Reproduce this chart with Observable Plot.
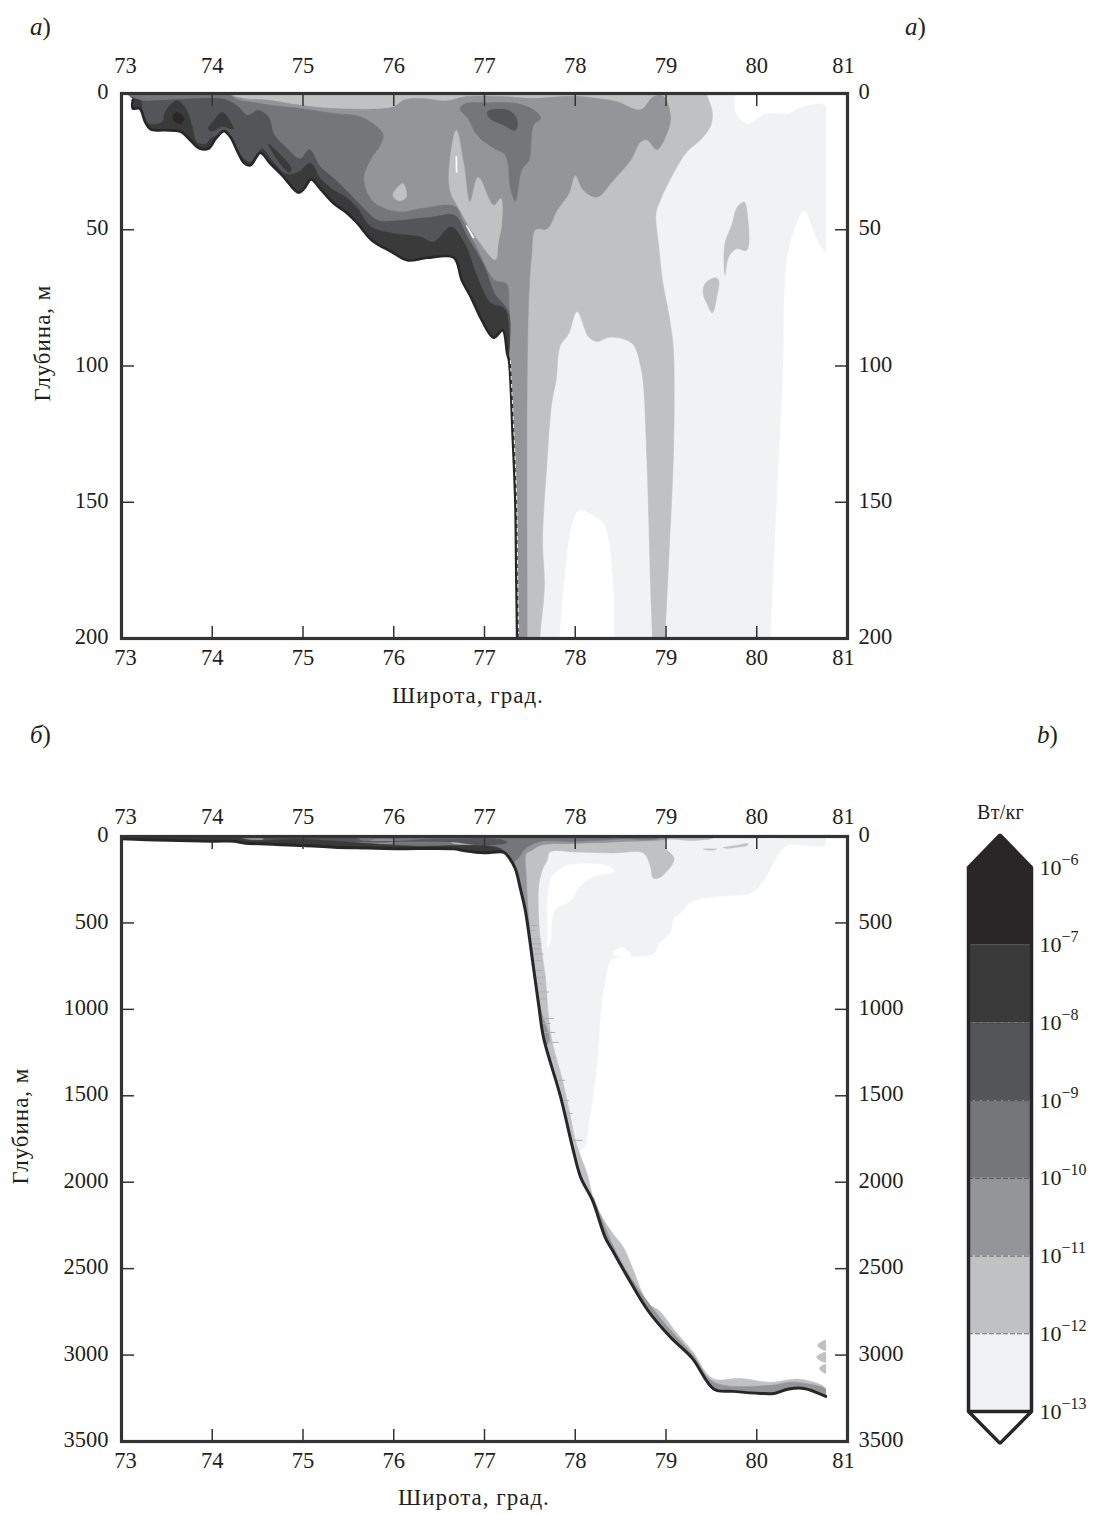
<!DOCTYPE html>
<html><head><meta charset="utf-8">
<script src="https://cdn.jsdelivr.net/npm/d3@7"></script>
<script src="https://cdn.jsdelivr.net/npm/@observablehq/plot@0.6"></script>
<style>
html,body{margin:0;padding:0;background:#fff}
#page{position:relative;width:1093px;height:1515px;overflow:hidden;font-family:"Liberation Serif",serif;color:#231f20}
#page>div{position:absolute;white-space:nowrap;line-height:1}
#page>svg,#page>figure{position:absolute;margin:0}
.lab{font-size:23px;letter-spacing:1px}
.unit{font-size:20px;letter-spacing:.3px}
.let{font-size:25px}
</style></head><body><div id="page"></div>
<script>
const latTicks=[73,74,75,76,77,78,79,80,81];
const depthTicksA=[0,50,100,150,200];
const depthTicksB=[0,500,1000,1500,2000,2500,3000,3500];
const levels=[-6,-7,-8,-9,-10,-11,-12,-13];
const bandColors=["#282627","#3a3a3b","#545558","#75767a","#949599","#c0c1c3","#f1f2f4"];
const [C7,C6,C5,C4,C3,C2,C1]=bandColors;

// Panel a: contour outlines, [latitude, depth m]; outlines run past the frame, which clips them
const seabedA=[[73.125,2.3],[73.125,5.5],[73.2,5.5],[73.26,10.4],[73.32,13.2],[73.47,13.5],[73.65,14],[73.74,16.5],[73.85,20],[73.96,20.2],[74.04,16.5],[74.13,13.8],[74.2,16],[74.28,21.4],[74.35,25.5],[74.42,26.3],[74.53,21.8],[74.64,25.7],[74.77,30],[74.95,36.4],[75.01,35],[75.09,31.5],[75.19,35],[75.34,40.4],[75.47,43.5],[75.6,47.7],[75.76,53.9],[75.97,58],[76.15,61.2],[76.37,60.3],[76.66,60.2],[76.75,68.5],[76.85,74.7],[76.97,83.2],[77.1,89.6],[77.2,86.9],[77.25,95.5],[77.27,98],[77.31,125],[77.34,150],[77.35,175],[77.36,200]];
const cliffDashA=[[77.285,98],[77.325,125],[77.355,150],[77.365,175],[77.375,198]];
const a1=[[73,-15],[79.76,-15],[79.76,0],[79.77,7.5],[79.9,11],[80.1,7.5],[80.35,7.3],[80.5,5],[80.76,4.7],[80.76,58],[80.67,53.8],[80.52,42.8],[80.41,50],[80.33,60],[80.3,75],[80.29,98],[80.22,147],[80.15,200],[80.14,215],[73,215]];
const aHole=[[77.83,215],[77.83,200],[77.89,176],[77.945,161.5],[78.02,153.6],[78.07,153],[78.22,155.4],[78.31,158],[78.37,165],[78.42,183.6],[78.43,200],[78.43,215]];
const a2=[[73,-15],[79.44,-15],[79.45,0],[79.51,6.7],[79.49,12],[79.38,17],[79.23,21.4],[79.08,29.4],[78.94,39],[78.89,44],[78.92,56],[78.96,68.5],[79.03,80.8],[79.08,93],[79.09,109],[79.08,134.6],[79.03,171],[78.99,200],[78.98,215],[78.86,215],[78.85,200],[78.83,181],[78.79,134.6],[78.75,106.5],[78.72,100],[78.63,91.8],[78.39,89.4],[78.24,91],[78.15,89.4],[78.02,80],[77.93,88],[77.83,93],[77.79,105],[77.74,113.8],[77.69,134.6],[77.64,164],[77.66,181],[77.61,200],[77.6,215],[73,215]];
const a2IslandA=[[79.86,39.8],[79.9,45.3],[79.89,57.5],[79.78,57],[79.69,60],[79.65,66.7],[79.64,63.6],[79.65,55],[79.73,47.7],[79.78,42]];
const a2IslandB=[[79.54,67.6],[79.58,68.5],[79.56,74.7],[79.51,80.5],[79.45,77],[79.41,73.4],[79.43,69.8]];
const a3=[[73,-15],[74.2,-15],[74.2,0],[74.35,1.8],[74.6,2.4],[74.97,4.3],[75.34,5.5],[76,4.9],[76.11,2.4],[76.3,1.8],[76.59,2.7],[76.78,1.2],[77.25,1.2],[77.51,1.8],[77.98,1],[78.24,1.8],[78.46,3],[78.72,6],[78.86,1.2],[78.97,1],[79.05,8.6],[79.01,14.7],[78.9,20.6],[78.79,17],[78.72,17.7],[78.61,24.5],[78.42,31.8],[78.24,38],[78.09,35.5],[78,30],[77.93,36.7],[77.8,42.8],[77.69,49.6],[77.56,50],[77.52,58.8],[77.49,73.4],[77.47,105],[77.47,200],[77.47,215],[73,215]];
const a3HoleLeft=[[76.69,13.5],[76.62,24.5],[76.62,35.5],[76.73,42.8],[76.88,51.4],[77.12,61],[77.15,55],[77.19,47.7],[77.18,38.5],[77.1,41],[76.93,30.8],[76.84,39.8],[76.77,25.7]];
const a3Island=[[76.1,33],[76.14,38],[76.06,39.4],[75.99,37.3]];
const aStreak=[[76.685,23],[76.695,23],[76.7,29],[76.69,29]];
const aStreak2=[[76.79,48.5],[76.81,48.5],[76.89,53],[76.87,53]];
const a4=[[73,-15],[74.2,-15],[74.2,0.5],[74.53,3.7],[74.97,5.5],[75.34,7.3],[75.64,8.6],[75.88,14.7],[75.86,18.4],[75.75,23.9],[75.67,30.6],[75.71,36.7],[75.82,41],[76.08,43.5],[76.3,42.2],[76.67,41.4],[76.76,46.5],[76.89,55],[77.11,68.5],[77.24,69.8],[77.27,78],[77.26,95],[77.1,110],[73,110]];
const a4Blob=[[76.73,5.5],[76.79,3.7],[77.06,3.4],[77.36,3.7],[77.54,6],[77.62,9.2],[77.54,11.6],[77.49,24.5],[77.41,28],[77.34,39.4],[77.29,35.5],[77.23,22.6],[77.1,20],[76.92,15.3],[76.82,9.2]];
const a5=[[73.1,1.2],[73.21,2.6],[73.41,2.6],[73.74,2],[74.15,2.3],[74.29,5],[74.39,8],[74.51,6.2],[74.62,8.7],[74.68,15],[74.81,19.7],[74.97,23.9],[75.07,20.6],[75.19,26.9],[75.34,31.2],[75.49,36],[75.67,42.2],[75.82,46.5],[76,46.8],[76.26,45.9],[76.44,45.3],[76.67,44.7],[76.81,52.6],[77,63.6],[77.11,73.4],[77.2,77],[77.27,80.8],[77.26,95],[77.1,110],[73,105],[73,4]];
const a5Blob=[[77.03,6.7],[77.12,5.8],[77.28,6.4],[77.36,9.8],[77.34,13.5],[77.21,11.6],[77.06,9.2]];
const a6=[[73.125,2.3],[73.21,2.6],[73.23,6.2],[73.3,11],[73.45,10.5],[73.48,6.9],[73.61,2.6],[73.71,5.6],[73.78,12.4],[73.83,17.9],[73.93,18.5],[73.98,16.6],[74.05,15.5],[74.15,14.2],[74.26,19.7],[74.33,23.4],[74.42,25.2],[74.5,22],[74.55,20.3],[74.66,24.6],[74.81,29.5],[74.95,28.8],[75.08,25.5],[75.19,31.2],[75.34,35.5],[75.47,38],[75.6,42.2],[75.75,49],[76,51.4],[76.29,52.6],[76.44,54.5],[76.63,49],[76.78,55],[76.92,67.3],[77.07,77],[77.22,79],[77.27,88],[77.26,97],[77.1,110],[73,110],[73,5]];
const a6Arch=[[73.956,13],[74.02,9.9],[74.11,6.9],[74.18,9.3],[74.23,13],[74.11,12],[74,13.8]];
const a6Streak=[[74.62,18.5],[74.72,21.5],[74.87,27.5],[74.85,29],[74.7,23.5]];
const a7Blob=[[73.61,6.9],[73.69,9.3],[73.65,11],[73.58,10],[73.57,8]];
const landA=[[72.5,-15],[73.06,-15],[73.06,0],...seabedA,[77.36,215],[72.5,215]];
const maskA=[{a:80.77,b:81,c:0,d:200}];

// Panel b
const seabedB=[[73,13],[73.27,19],[74,27],[74.24,27],[74.35,37],[75,52],[75.34,62],[75.71,67],[76,71],[76.66,71],[76.77,81],[76.99,94],[77.21,91],[77.28,129],[77.34,187],[77.4,312],[77.45,428],[77.54,760],[77.6,987],[77.65,1162],[77.84,1509],[77.97,1798],[78.06,1972],[78.19,2105],[78.33,2319],[78.41,2394],[78.61,2579],[78.8,2741],[79.05,2897],[79.29,3019],[79.53,3198],[79.74,3210],[80.04,3222],[80.19,3222],[80.34,3198],[80.52,3193],[80.76,3239]];
const b1=[[73,-100],[80,-100],[80,0],[80.75,10],[80.75,52],[80.33,52],[80.22,120],[80.11,225],[79.96,322],[79.74,341],[79.49,351],[79.27,380],[79.19,428],[79.08,476],[79.05,553],[78.92,621],[78.86,679],[78.62,692],[78.51,694],[78.39,717],[78.33,833],[78.28,1024],[78.24,1314],[78.15,1662],[78.1,1797],[78,1820],[77.5,1000],[73,100]];
const bHole=[[77.79,206],[77.91,168],[78.2,158],[78.4,181],[78.42,206],[78.22,229],[78.06,283],[77.95,370],[77.82,405],[77.77,428],[77.74,505],[77.72,621],[77.69,640],[77.7,563],[77.69,409],[77.71,293],[77.74,235]];
const bNotch=[[78.42,675],[78.51,642],[78.61,682],[78.51,694]];
const b2=[[73,-100],[79.52,-100],[79.52,0],[79.52,8],[79.3,23],[79,23],[78.99,62],[79.09,129],[78.94,235],[78.86,241],[78.83,177],[78.75,96],[78.42,96],[78.02,90],[77.72,90],[77.69,139],[77.65,177],[77.6,274],[77.6,505],[77.63,659],[77.67,813],[77.71,1064],[77.75,1197],[77.86,1411],[77.94,1602],[78.01,1775],[78.13,1950],[78.22,2124],[78.39,2279],[78.53,2376],[78.64,2508],[78.8,2700],[78.92,2741],[79.11,2867],[79.3,2984],[79.51,3135],[79.82,3135],[80.15,3157],[80.48,3140],[80.76,3192],[80.76,3240],[80.7,3290],[80,3320],[73,3320]];
const bStreakA=[[79.41,73],[79.56,73],[79.5,80]];
const bStreakB=[[79.63,65],[79.78,52],[79.9,42],[79.9,50],[79.78,62],[79.67,69]];
const bIsland1=[[80.67,2944],[80.76,2915],[80.76,2973]];
const bIsland2=[[80.66,3013],[80.76,2985],[80.76,3042]];
const bIsland3=[[80.69,3077],[80.76,3054],[80.76,3106]];
const b3=[[73,-100],[79,-100],[79,0],[79,12],[78.5,30],[78,40],[77.62,50],[77.52,80],[77.46,100],[77.46,235],[77.49,486],[77.55,760],[77.62,1000],[77.7,1200],[77,1200],[73,1200]];
const b3Slope=[[78.2,2085],[78.41,2360],[78.61,2550],[78.87,2741],[79.02,2838],[79.29,2996],[79.53,3157],[80.15,3175],[80.37,3157],[80.52,3163],[80.76,3198],[80.76,3250],[80.5,3300],[78.87,3000]];
const bTeethDepth=[515,544,592,621,650,679,717,775,814,852,900,939,1053,1082,1134,1191,1278,1411,1527,1602,1758];
const bTeethLat=[77.58,77.56,77.61,77.63,77.61,77.65,77.63,77.65,77.67,77.65,77.71,77.69,77.76,77.73,77.78,77.82,77.78,77.89,77.93,77.97,78.08];
const bTeeth=bTeethDepth.map((d,i)=>[d,bTeethLat[i]]);
const b4=[[75,-100],[78.95,-100],[78.95,0],[78.5,15],[78,28],[77.6,30],[77.45,70],[77.38,120],[77.3,150],[77,100],[75,60]];
const bBit3=[[75.75,25],[76,22],[76,35],[75.75,38]];
const bBit2=[[76.62,28],[76.78,24],[76.92,33],[76.9,42],[76.66,40]];
const b5=[[74.6,-100],[75.6,-100],[75.6,10],[76.5,14],[77.2,20],[77.25,35],[77,50],[76.6,30],[76,28],[75.6,30],[75,60],[74.6,60]];
const b6=[[72.5,-100],[74.3,-100],[74.3,0],[75,15],[75.7,40],[76.2,55],[77.2,78],[77.2,150],[72.5,150]];
const landB=[[72.5,13],[73,13],...seabedB,[80.76,3300],[80.7,3600],[72.5,3600]];
const maskB=[{a:80.77,b:81,c:0,d:3500}];

// Colour bar outline
const barOutline=[[0,-6],[0.5,-5.58],[1,-6],[1,-13],[0.5,-13.41],[0,-13],[0,-6]];
const barTip=[[0,-6],[0.5,-5.58],[1,-6]];

const poly=(pts,fill,curve="catmull-rom-closed")=>Plot.line(pts,{x:d=>d[0],y:d=>d[1],fill,stroke:fill,strokeWidth:0.5,curve,clip:true});
const straight=(pts,fill)=>poly(pts,fill,"linear-closed");
const lineOf=(pts,o)=>Plot.line(pts,{x:d=>d[0],y:d=>d[1],curve:"catmull-rom",clip:true,...o});
const mask=m=>Plot.rect(m,{x1:"a",x2:"b",y1:"c",y2:"d",fill:"#fff"});

function axes(ticks,topPad,bottomPad){
  const inner=latTicks.slice(1,-1);
  const base={tickSize:0};
  const fmt=d=>String(d);
  const t={tickFormat:()=>"",stroke:"#333",strokeWidth:1.5};
  return [
    Plot.axisX({anchor:"top",ticks:inner,tickSize:-12,...t}),
    Plot.axisX({anchor:"bottom",ticks:inner,tickSize:-12,...t}),
    Plot.axisY({anchor:"left",ticks:ticks.slice(1,-1),tickSize:-13,...t}),
    Plot.axisY({anchor:"right",ticks:ticks.slice(1,-1),tickSize:-13,...t}),
    Plot.axisX({...base,anchor:"top",ticks:inner,tickPadding:topPad,tickFormat:fmt}),
    Plot.axisX({...base,anchor:"top",ticks:[73],tickPadding:topPad,dx:4,tickFormat:fmt}),
    Plot.axisX({...base,anchor:"top",ticks:[81],tickPadding:topPad,dx:-4,tickFormat:fmt}),
    Plot.axisX({...base,anchor:"bottom",ticks:inner,tickPadding:bottomPad,tickFormat:fmt}),
    Plot.axisX({...base,anchor:"bottom",ticks:[73],tickPadding:bottomPad,dx:4,tickFormat:fmt}),
    Plot.axisX({...base,anchor:"bottom",ticks:[81],tickPadding:bottomPad,dx:-4,tickFormat:fmt}),
    Plot.axisY({...base,anchor:"left",ticks,tickPadding:13,dy:-1.5,tickFormat:fmt}),
    Plot.axisY({...base,anchor:"right",ticks,tickPadding:11,dy:-1.5,tickFormat:fmt}),
  ];
}
const plotStyle={fontFamily:"Liberation Serif",fontSize:"22.5px",color:"#231f20",background:"transparent"};

const chartA=Plot.plot({
  width:940,height:720,marginTop:93,marginBottom:82,marginLeft:121,marginRight:93,
  style:plotStyle,
  x:{domain:[73,81],range:[121,847]},
  y:{domain:[0,200],range:[93,638]},
  marks:[
    poly(a1,C1),poly(aHole,"#fff"),
    poly(a2,C2),poly(a2IslandA,C2),poly(a2IslandB,C2),
    poly(a3,C3),poly(a3HoleLeft,C2),poly(a3Island,C2),straight(aStreak,"#fff"),straight(aStreak2,"#fff"),
    poly(a4,C4),poly(a4Blob,C4),
    poly(a5,C5),poly(a5Blob,C5),
    poly(a6,C6),poly(a6Arch,C6),poly(a6Streak,C6),poly(a7Blob,C7),
    poly(landA,"#fff"),mask(maskA),
    lineOf(seabedA,{stroke:C7,strokeWidth:2.6}),
    lineOf(cliffDashA,{stroke:"#fff",strokeWidth:1,strokeDasharray:"3 5"}),
    ...axes(depthTicksA,21,11),
    Plot.frame({stroke:"#333",strokeWidth:3.2})
  ]
});
chartA.style.left="0px";chartA.style.top="0px";

const chartB=Plot.plot({
  width:940,height:795,marginTop:116,marginBottom:74,marginLeft:121,marginRight:93,
  style:plotStyle,
  x:{domain:[73,81],range:[121,847]},
  y:{domain:[0,3500],range:[116,721]},
  marks:[
    poly(b1,C1),poly(bHole,"#fff"),poly(bNotch,"#fff"),
    poly(b2,C2),poly(bStreakA,C2),poly(bStreakB,C2),poly(bIsland1,C2),poly(bIsland2,C2),poly(bIsland3,C2),
    poly(b3,C3),poly(b3Slope,C3),
    Plot.link(bTeeth,{x1:d=>d[1]-0.12,x2:d=>d[1],y1:d=>d[0],y2:d=>d[0],stroke:"#aeafb2",strokeWidth:1,markerEnd:null}),
    poly(b4,C4),poly(bBit3,C3),poly(bBit2,C2),poly(b5,C5),poly(b6,C6),
    poly(landB,"#fff"),mask(maskB),
    lineOf(seabedB,{stroke:C7,strokeWidth:3}),
    ...axes(depthTicksB,13,11),
    Plot.frame({stroke:"#333",strokeWidth:3.2})
  ]
});
chartB.style.left="0px";chartB.style.top="720px";

const bands=bandColors.map((c,i)=>({hi:levels[i],lo:levels[i+1],c}));
const chartBar=Plot.plot({
  width:153,height:680,margin:0,
  style:plotStyle,
  x:{domain:[0,1],range:[28,91],axis:null},
  y:{domain:[-6,-13],range:[77,621],axis:null},
  marks:[
    Plot.rect(bands,{x1:()=>0,x2:()=>1,y1:"hi",y2:"lo",fill:"c"}),
    Plot.ruleY(levels.slice(1,-1),{x1:0,x2:1,stroke:"#444",strokeWidth:0.8,strokeDasharray:"5 2"}),
    Plot.line(barTip,{x:d=>d[0],y:d=>d[1],fill:C7,stroke:C7,curve:"linear-closed"}),
    Plot.line(barOutline,{x:d=>d[0],y:d=>d[1],stroke:C7,strokeWidth:3.5,strokeLinejoin:"miter"}),
    Plot.ruleY([-13],{x1:0,x2:1,stroke:C7,strokeWidth:3.5}),
    Plot.text(levels,{x:()=>1,y:d=>d,text:()=>"10",dx:8,dy:0,textAnchor:"start",fontSize:22}),
    Plot.text(levels,{x:()=>1,y:d=>d,text:d=>"\u2212"+(-d),dx:30,dy:-8,textAnchor:"start",fontSize:16})
  ]
});
chartBar.style.left="940px";chartBar.style.top="790px";

const page=document.getElementById("page");
page.append(chartA,chartB,chartBar);
function label(html,cls,left,top,extra){
  const d=document.createElement("div");d.className=cls;d.innerHTML=html;
  d.style.left=left+"px";d.style.top=top+"px";
  if(extra)d.style.transform=extra;
  page.append(d);
}
label("<i>а</i>)","let",30,14);
label("<i>a</i>)","let",905,14);
label("<i>б</i>)","let",30,722);
label("<i>b</i>)","let",1037,722);
label("Широта, град.","lab",392,684);
label("Широта, град.","lab",398,1486);
label("Глубина, м","lab",42,343,"translate(-50%,-50%) rotate(-90deg)");
label("Глубина, м","lab",20,1126,"translate(-50%,-50%) rotate(-90deg)");
label("Вт/кг","unit",977,802);
</script></body></html>
